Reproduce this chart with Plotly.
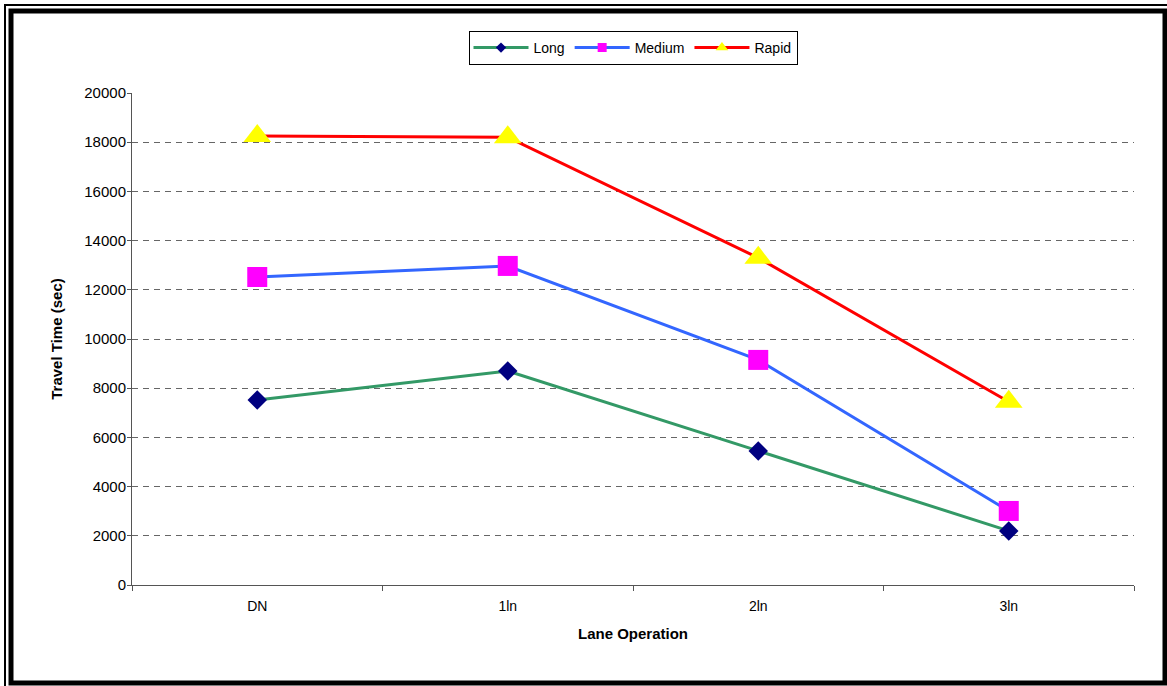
import plotly.graph_objects as go

categories = ["DN", "1ln", "2ln", "3ln"]
long_vals = [7520, 8700, 5450, 2200]
medium_vals = [12520, 12970, 9150, 3010]
rapid_vals = [18250, 18200, 13300, 7450]
y_ticks = [0, 2000, 4000, 6000, 8000, 10000, 12000, 14000, 16000, 18000, 20000]

W, H = 1167, 686
L, R, T, B = 132, 1134, 93, 585

series = [
    ("Long", long_vals, "#339966", "diamond", 15, 8),
    ("Medium", medium_vals, "#3366FF", "square", 20, 9),
    ("Rapid", rapid_vals, "#FF0000", "triangle-up", 24, 11),
]
marker_colors = {"Long": "#000080", "Medium": "#FF00FF", "Rapid": "#FFFF00"}

fig = go.Figure()
for name, vals, lc, sym, size, lsize in series:
    fig.add_trace(go.Scatter(x=categories, y=vals, name=name, mode="lines+markers",
                             legendgroup=name, showlegend=False,
                             line=dict(color=lc, width=3),
                             marker=dict(symbol=sym, size=size, color=marker_colors[name])))
for name, vals, lc, sym, size, lsize in series:
    fig.add_trace(go.Scatter(x=[None], y=[None], name=name, mode="lines+markers",
                             legendgroup=name, showlegend=True,
                             line=dict(color=lc, width=3),
                             marker=dict(symbol=sym, size=lsize, color=marker_colors[name])))

def px(x):
    return (x - L) / (R - L)

def py(y):
    return (B - y) / (B - T)

shapes = [
    dict(type="rect", xref="paper", yref="paper",
         x0=px(5), x1=px(1180), y0=py(5), y1=py(700),
         line=dict(color="black", width=2), fillcolor="rgba(0,0,0,0)", layer="above"),
    dict(type="rect", xref="paper", yref="paper",
         x0=px(11), x1=px(1165), y0=py(11), y1=py(683),
         line=dict(color="black", width=5), fillcolor="rgba(0,0,0,0)", layer="above"),
]

fig.update_layout(
    width=W, height=H,
    margin=dict(l=L, r=W - R, t=T, b=H - B),
    paper_bgcolor="white", plot_bgcolor="white",
    font=dict(family="Liberation Sans, Arial, sans-serif", size=14, color="black"),
    shapes=shapes,
    showlegend=True,
    legend=dict(orientation="h", x=0.5, xanchor="center", y=py(31), yanchor="top",
                bordercolor="black", borderwidth=1, bgcolor="white",
                font=dict(size=14), itemwidth=55, tracegroupgap=0),
    xaxis=dict(type="category", range=[-0.5, 3.5], tickson="boundaries",
               ticks="outside", ticklen=5, tickcolor="#555", showline=True,
               linecolor="#555", linewidth=1, showgrid=False, zeroline=False,
               ticklabelstandoff=8,
               tickfont=dict(size=14),
               title=dict(text="<b>Lane Operation</b>", standoff=15,
                          font=dict(size=15))),
    yaxis=dict(range=[0, 20000], tickvals=y_ticks, tickformat="d",
               ticks="outside", ticklen=4,
               tickcolor="#555", showline=True, linecolor="#555", linewidth=1,
               showgrid=True, gridcolor="#666", griddash="6px,5px", gridwidth=1,
               zeroline=False, tickfont=dict(size=15), ticklabelstandoff=-2,
               title=dict(text="<b>Travel Time (sec)</b>", standoff=18,
                          font=dict(size=15))),
)

fig.write_html("out.html", config={"displayModeBar": False},
               post_script="document.body.style.margin='0';document.body.style.overflow='hidden';")
